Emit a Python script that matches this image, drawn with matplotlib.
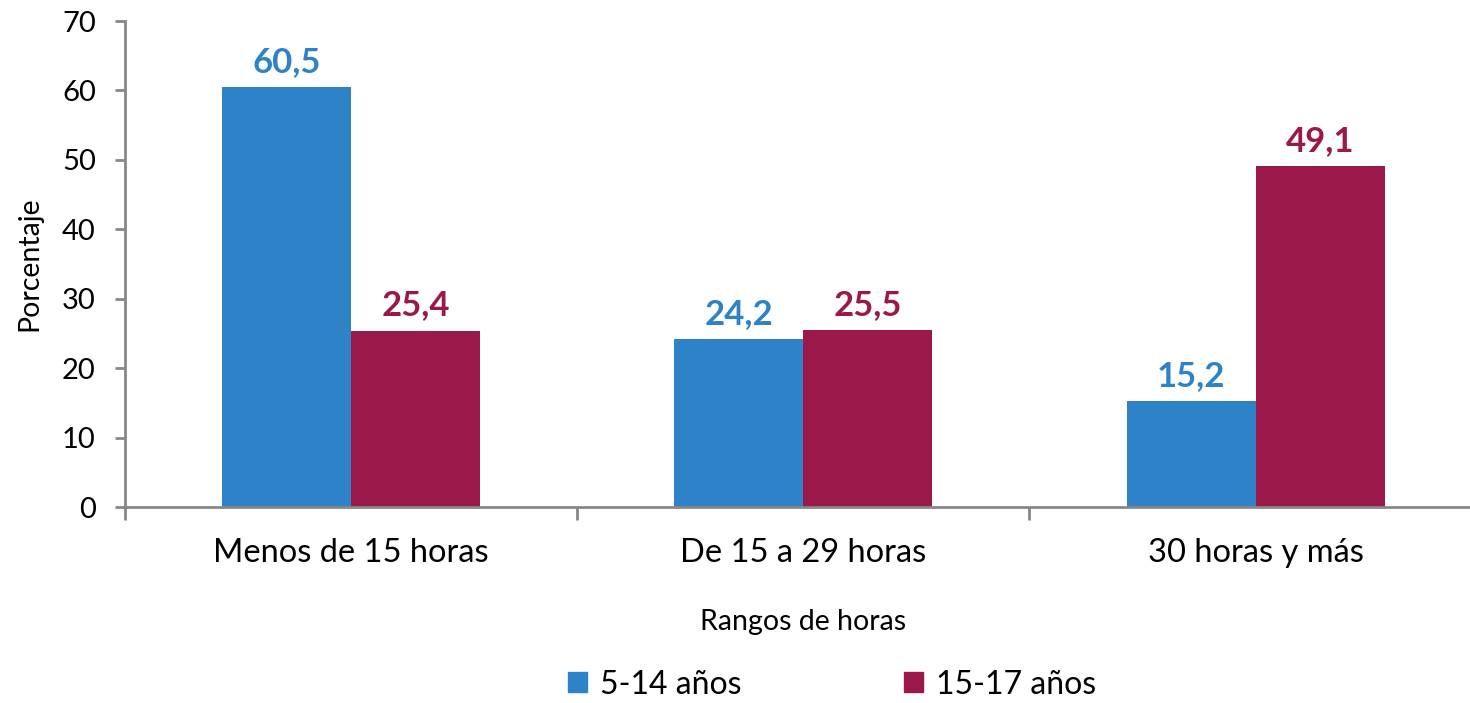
import matplotlib.pyplot as plt
from matplotlib.patches import Patch
import numpy as np

categorias = ["Menos de 15 horas", "De 15 a 29 horas", "30 horas y más"]
serie_5_14 = [60.5, 24.2, 15.2]
serie_15_17 = [25.4, 25.5, 49.1]
nombres = ["5-14 años", "15-17 años"]

azul = "#2E83C8"
rojo = "#9B184B"
gris = "#878787"

plt.rcParams["font.family"] = ["Lato", "DejaVu Sans"]

fig = plt.figure(figsize=(14.7, 7.03), dpi=100)
ax = fig.add_axes([0.085, 0.2788, 0.923, 0.6913])

x = np.arange(len(categorias))
w = 0.285
b1 = ax.bar(x - w / 2, serie_5_14, w, color=azul)
b2 = ax.bar(x + w / 2, serie_15_17, w, color=rojo)

for bars, vals, c in [(b1, serie_5_14, azul), (b2, serie_15_17, rojo)]:
    for rect, v in zip(bars, vals):
        ax.annotate(f"{v:.1f}".replace(".", ","),
                    (rect.get_x() + rect.get_width() / 2, v),
                    xytext=(0, 11), textcoords="offset points",
                    ha="center", va="baseline", fontsize=25,
                    fontweight="bold", color=c)

ax.set_xlim(-0.5, 2.5)
ax.set_ylim(0, 70)
ax.set_yticks(range(0, 71, 10))
ax.tick_params(axis="y", labelsize=21, length=7, width=2, color=gris, pad=14)
ax.set_xticks([-0.5, 0.5, 1.5, 2.5])
ax.set_xticklabels([])
ax.set_xticks(x, minor=True)
ax.set_xticklabels(categorias, minor=True, fontsize=23.5)
ax.tick_params(axis="x", which="major", length=9, width=2, color=gris)
ax.tick_params(axis="x", which="minor", length=0, pad=22)

for s in ["top", "right"]:
    ax.spines[s].set_visible(False)
for s in ["left", "bottom"]:
    ax.spines[s].set_color(gris)
    ax.spines[s].set_linewidth(2)

ax.set_ylabel("Porcentaje", fontsize=20.5, labelpad=14)
ax.set_xlabel("Rangos de horas", fontsize=20.5, labelpad=30)

handles = [Patch(color=azul), Patch(color=rojo)]
fig.legend(handles, nombres, loc="lower center", bbox_to_anchor=(0.566, -0.036),
           ncol=2, frameon=False, fontsize=23, handlelength=0.6, handleheight=0.6,
           handletextpad=0.4, columnspacing=5.1)

fig.savefig("out.png", dpi=100)
plt.close(fig)
